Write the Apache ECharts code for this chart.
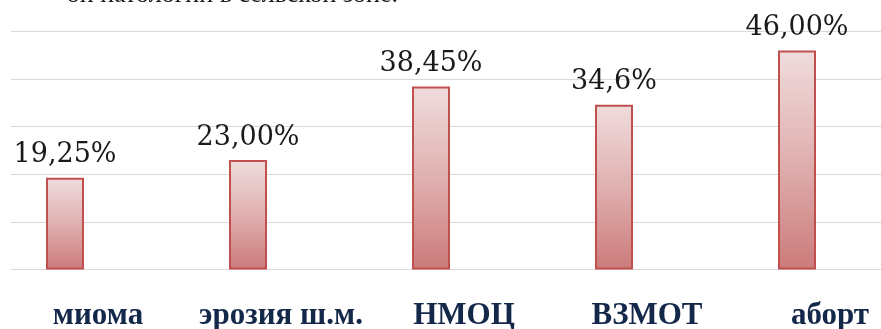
<!DOCTYPE html>
<html>
<head>
<meta charset="utf-8">
<script src="https://cdn.jsdelivr.net/npm/echarts@6/dist/echarts.min.js"></script>
<style>
  html, body { margin: 0; padding: 0; background: #fff; }
  #chart { width: 881px; height: 329px; }
</style>
</head>
<body>
<div id="chart"></div>
<script>
// Доля патологии по нозологиям, %
const categories = ['миома', 'эрозия ш.м.', 'НМОЦ', 'ВЗМОТ', 'аборт'];
const values = [19.25, 23.00, 38.45, 34.6, 46.00];
const valueLabels = ['19,25%', '23,00%', '38,45%', '34,6%', '46,00%'];
const yTicks = [0, 10, 20, 30, 40, 50];

const yMin = yTicks[0];
const yMax = yTicks[yTicks.length - 1];
const yStep = yTicks[1] - yTicks[0];

const chart = echarts.init(document.getElementById('chart'), null, { renderer: 'canvas' });

const plotTop = 31.5;
const plotHeight = 238;

chart.setOption({
  animation: false,
  backgroundColor: '#ffffff',
  graphic: [{
    type: 'text',
    silent: true,
    style: {
      text: 'ой патологии в сельской зоне.',
      x: 398,
      y: 8,
      textAlign: 'right',
      textVerticalAlign: 'bottom',
      font: '26px "Liberation Serif", serif',
      fill: '#1a1a1a'
    }
  }],
  grid: [
    // bars
    { left: -26.5, width: 915, top: plotTop, height: plotHeight, outerBoundsMode: 'none' },
    // horizontal gridlines
    { left: 11, right: 0, top: plotTop, height: plotHeight, outerBoundsMode: 'none' }
  ],
  xAxis: [
    {
      type: 'category',
      gridIndex: 0,
      data: categories,
      axisLine: { show: false },
      axisTick: { show: false },
      axisLabel: {
        show: true,
        interval: 0,
        hideOverlap: false,
        margin: 31,
        padding: [0, 0, 0, 66],
        fontFamily: '"Liberation Serif", serif',
        fontWeight: 'bold',
        fontSize: 31,
        color: '#14284a'
      }
    },
    {
      type: 'value',
      gridIndex: 1,
      show: false
    }
  ],
  yAxis: [
    {
      type: 'value',
      gridIndex: 0,
      min: yMin, max: yMax, interval: yStep,
      show: false,
      splitLine: { show: false }
    },
    {
      type: 'value',
      gridIndex: 1,
      min: yMin, max: yMax, interval: yStep,
      axisLine: { show: false },
      axisTick: { show: false },
      axisLabel: { show: false },
      splitLine: { show: true, lineStyle: { color: '#d9d9d9', width: 1 } }
    }
  ],
  series: [{
    type: 'bar',
    xAxisIndex: 0,
    yAxisIndex: 0,
    data: values,
    barWidth: 38,
    itemStyle: {
      color: new echarts.graphic.LinearGradient(0, 0, 0, 1, [
        { offset: 0, color: '#f0dcdd' },
        { offset: 0.5, color: '#e0b0b0' },
        { offset: 1, color: '#cc7a7a' }
      ]),
      borderColor: '#c0504d',
      borderWidth: 2
    },
    label: {
      show: true,
      position: 'top',
      distance: 9,
      formatter: (p) => valueLabels[p.dataIndex],
      fontFamily: '"DejaVu Serif", serif',
      fontSize: 27,
      color: '#1a1a1a'
    }
  }]
});
</script>
</body>
</html>
